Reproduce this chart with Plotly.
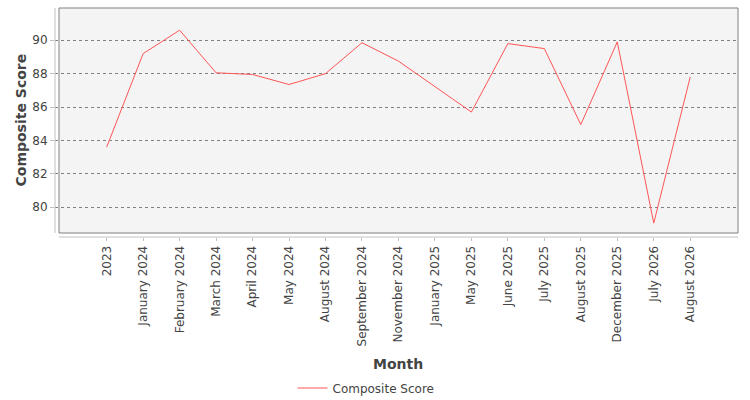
import plotly.graph_objects as go

# data
months = ["2023", "January 2024", "February 2024", "March 2024", "April 2024",
          "May 2024", "August 2024", "September 2024", "November 2024",
          "January 2025", "May 2025", "June 2025", "July 2025", "August 2025",
          "December 2025", "July 2026", "August 2026"]
scores = [83.6, 89.2, 90.6, 88.05, 87.95, 87.35, 88.0, 89.85, 88.75,
          87.2, 85.7, 89.8, 89.5, 84.95, 89.9, 79.05, 87.8]
y_ticks = [80, 82, 84, 86, 88, 90]

FONT = "DejaVu Sans"
TXT = "#444444"

fig = go.Figure()

fig.add_trace(go.Scatter(
    x=months,
    y=scores,
    mode="lines",
    name="Composite Score",
    line=dict(color="#ff5555", width=1),
))

# plot area spans 55..738 x 8..237 px; the grey panel sits slightly inset
W, H = 683, 229
px = lambda v: (v - 55) / W
py = lambda v: (237 - v) / H

shapes = [
    # grey panel
    dict(type="rect", xref="paper", yref="paper", x0=px(59), x1=1, y0=py(233), y1=1,
         fillcolor="#f4f4f4", line=dict(width=0), layer="below"),
    # white strip to hide gridline ends in the gap
    dict(type="rect", xref="paper", yref="paper", x0=0, x1=px(59), y0=0, y1=1,
         fillcolor="white", line=dict(width=0), layer="between"),
    # panel border
    dict(type="rect", xref="paper", yref="paper", x0=px(59), x1=1, y0=py(233), y1=1,
         fillcolor="rgba(0,0,0,0)", line=dict(color="#808080", width=1), layer="between"),
    # offset axis lines
    dict(type="line", xref="paper", yref="paper", x0=0, x1=0, y0=py(233), y1=1,
         line=dict(color="#c0c0c0", width=1)),
    dict(type="line", xref="paper", yref="paper", x0=px(59), x1=1, y0=0, y1=0,
         line=dict(color="#c0c0c0", width=1)),
]

# axis titles as annotations for exact placement
title_font = dict(family=FONT, size=14, color=TXT)
annotations = [
    dict(text="<b>Composite Score</b>", xref="paper", yref="paper",
         x=px(20), y=py(120.5), xanchor="center", yanchor="middle",
         textangle=-90, showarrow=False, font=title_font),
    dict(text="<b>Month</b>", xref="paper", yref="paper",
         x=px(398), y=py(364), xanchor="center", yanchor="middle",
         showarrow=False, font=title_font),
]

fig.update_layout(
    width=750,
    height=400,
    margin=dict(l=55, r=12, t=8, b=163, autoexpand=False),
    paper_bgcolor="white",
    plot_bgcolor="rgba(0,0,0,0)",
    font=dict(family=FONT, size=12, color=TXT),
    shapes=shapes,
    annotations=annotations,
    showlegend=True,
    legend=dict(
        orientation="h",
        xref="container", yref="paper",
        x=0.488, y=py(388), xanchor="center", yanchor="middle",
        font=dict(family=FONT, size=12, color=TXT),
        itemwidth=30,
    ),
    xaxis=dict(
        type="category",
        range=[-1.417, 17.31],
        tickangle=-90,
        ticks="outside",
        ticklen=3,
        tickcolor="#c0c0c0",
        tickfont=dict(family=FONT, size=12, color=TXT),
        showgrid=False,
        showline=False,
        zeroline=False,
        automargin=False,
    ),
    yaxis=dict(
        range=[78.22, 91.93],
        tickvals=y_ticks,
        ticks="outside",
        ticklen=4,
        tickcolor="#c0c0c0",
        tickfont=dict(family=FONT, size=12, color=TXT),
        showgrid=True,
        gridcolor="#808080",
        griddash="dot",
        gridwidth=1,
        showline=False,
        zeroline=False,
        automargin=False,
    ),
)

# the page body has a default 8px margin; drop it so the figure fills the window
fig.write_html("out.html", config={"displayModeBar": False},
               post_script="document.body.style.margin='0px';")
